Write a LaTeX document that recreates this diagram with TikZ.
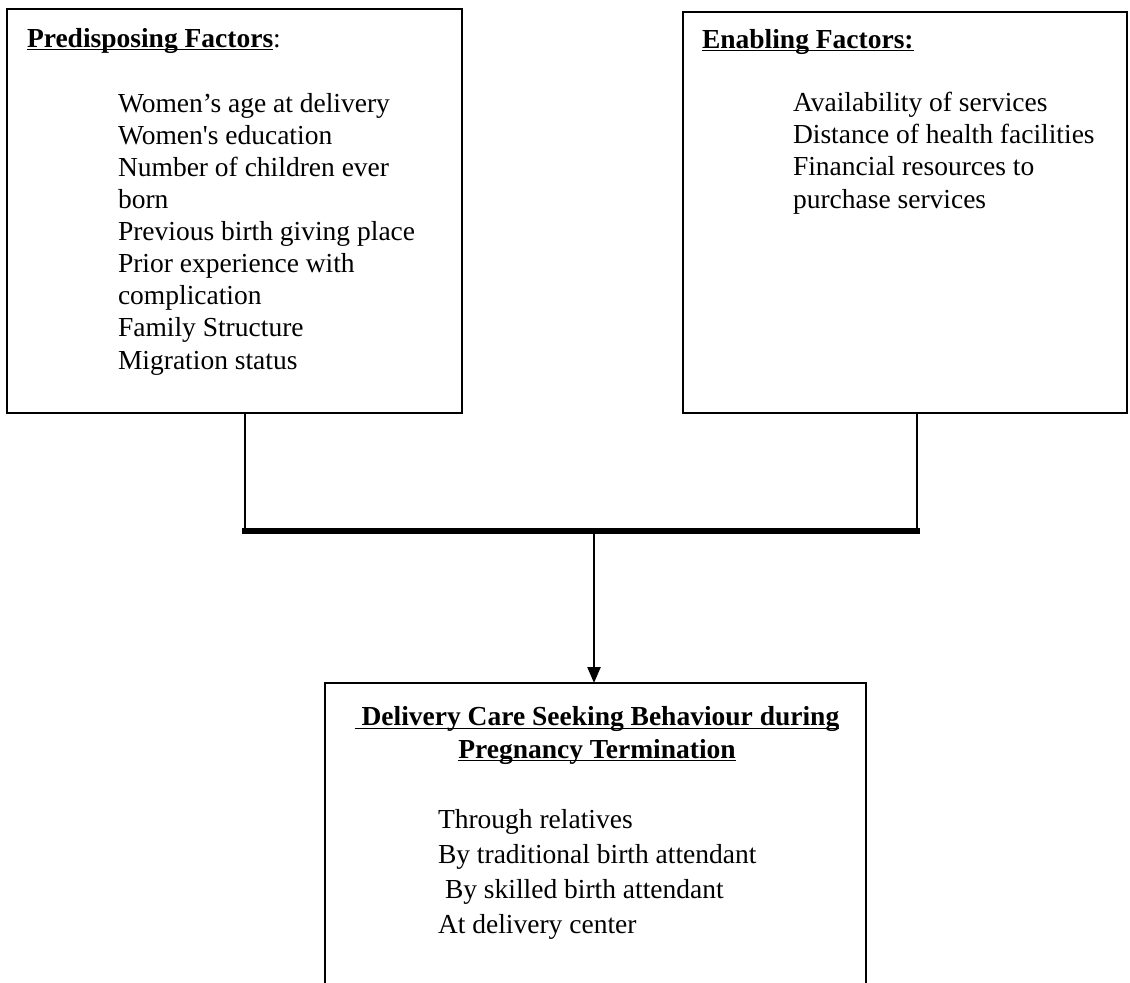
\documentclass[tikz,border=0pt]{standalone}
\usepackage{fontspec}
\setmainfont{Liberation Serif}
\usetikzlibrary{arrows.meta}
\begin{document}
\begin{tikzpicture}[x=0.5pt,y=-0.5pt,
  box/.style={draw, line width=1.3pt, inner sep=0pt, outer sep=0pt},
  txt/.style={inner sep=0pt, outer sep=0pt, align=left, font=\fontsize{13.75}{16.05}\selectfont},
  txtb/.style={inner sep=0pt, outer sep=0pt, align=left, font=\fontsize{13.75}{17.5}\selectfont},
  link/.style={line width=1.2pt},
  bar/.style={line width=2.6pt, line cap=rect},
  arr/.style={line width=1.2pt, -{Triangle[length=8pt,width=6.5pt]}}]
\useasboundingbox (0,0) rectangle (1130,982);
\clip (0,0) rectangle (1130,982);
% boxes
\node[box, minimum width=227.5pt, minimum height=202pt] (L) at (234.5,211) {};
\node[box, minimum width=222pt, minimum height=200.5pt] (R) at (905,212.5) {};
\node[box, minimum width=270.5pt, minimum height=170pt] (B) at (595.5,853) {};
% texts (multi-line nodes anchored at the baseline of their last line)
\node[txt, anchor=base west] (Lh) at (27,47) {\textbf{\underline{\smash{Predisposing Factors}}}:};
\node[txt, anchor=base west] (Li) at (118,369) {Women’s age at delivery\\ Women\textquotesingle s education\\ Number of children ever\\ born\\ Previous birth giving place\\ Prior experience with\\ complication\\ Family Structure\\ Migration status};
\node[txt, anchor=base west] (Rh) at (702,48) {\textbf{\underline{\smash{Enabling Factors:}}}};
\node[txt, anchor=base west] (Ri) at (793,208) {Availability of services\\ Distance of health facilities\\ Financial resources to\\ purchase services};
\node[txt, align=center, anchor=base] (Bh) at (597,758) {\textbf{\underline{\smash{\ Delivery Care Seeking Behaviour during}}}\\ \textbf{\underline{\smash{Pregnancy Termination}}}};
\node[txtb, anchor=base west] (Bi) at (438,933) {Through relatives\\ By traditional birth attendant\\ \hspace{3.5pt}By skilled birth attendant\\ At delivery center};
% connectors
\coordinate (j1) at (245,531);
\coordinate (j2) at (917,531);
\coordinate (jm) at (594,531);
\draw[link] (L.south -| j1) -- (j1);
\draw[link] (R.south -| j2) -- (j2);
\draw[bar] (j1) -- (j2);
\draw[arr] (jm) -- (jm |- B.north);
\end{tikzpicture}
\end{document}
